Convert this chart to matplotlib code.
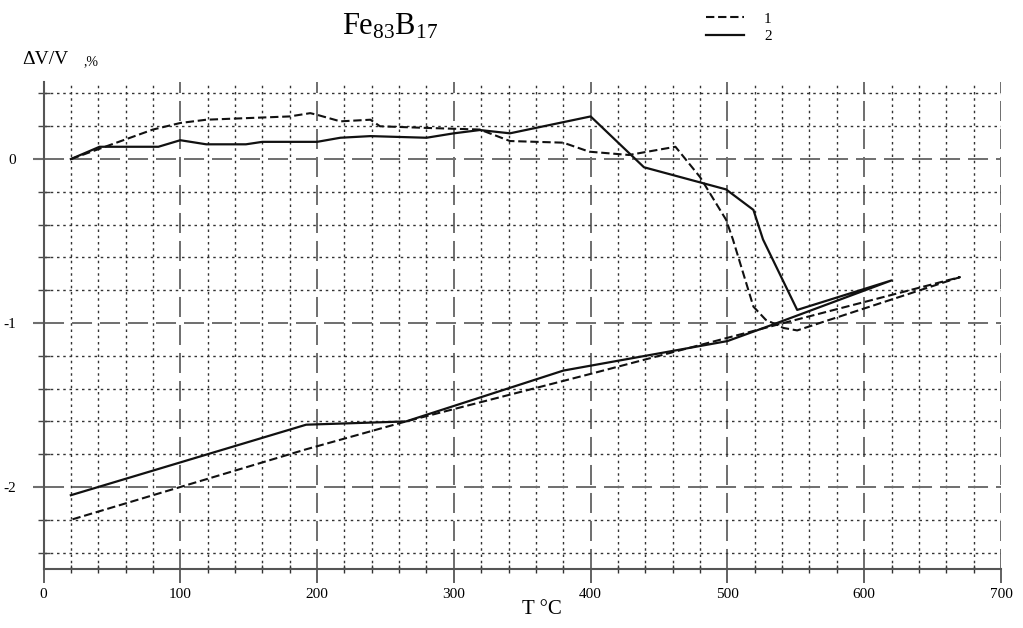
import matplotlib
matplotlib.use("Agg")
import matplotlib.pyplot as plt
from matplotlib.ticker import MultipleLocator

plt.rcParams['font.family'] = ['Liberation Serif', 'DejaVu Serif']
plt.rcParams['mathtext.fontset'] = 'custom'
plt.rcParams['mathtext.rm'] = 'Liberation Serif'

# curve 1 (dashed): heating, then cooling back to room temperature
t1 = [20, 80, 100, 119, 180, 195, 200, 217, 239, 246, 280, 319, 341, 380, 399,
      428, 462, 480, 499, 504, 519, 528, 541, 551, 670,
      541, 400, 265, 192, 20]
dv1 = [0.0, 0.18, 0.22, 0.24, 0.26, 0.28, 0.27, 0.23, 0.24, 0.20, 0.19, 0.18, 0.11, 0.10, 0.045,
       0.025, 0.075, -0.11, -0.37, -0.49, -0.90, -0.98, -1.03, -1.045, -0.72,
       -1.0, -1.31, -1.6, -1.77, -2.2]

# curve 2 (solid)
t2 = [20, 41, 84, 100, 119, 148, 160, 200, 217, 239, 280, 300, 319, 341, 400,
      439, 499, 519, 526, 551, 620,
      533, 500, 400, 380, 265, 192, 20]
dv2 = [0.0, 0.075, 0.075, 0.115, 0.09, 0.09, 0.105, 0.105, 0.13, 0.14, 0.13, 0.157, 0.177, 0.157, 0.26,
       -0.05, -0.185, -0.31, -0.49, -0.92, -0.74,
       -1.01, -1.11, -1.26, -1.29, -1.6, -1.62, -2.05]

x_ticks = [0, 100, 200, 300, 400, 500, 600, 700]
y_ticks = [0, -1, -2]

W, H = 1023, 628
fig = plt.figure(figsize=(W / 100, H / 100), dpi=100)
ax = fig.add_axes([43.5 / W, 1 - 569 / H, (1001 - 43.5) / W, (569 - 82) / H])

ax.plot(t1, dv1, color='#111111', lw=1.5, linestyle=(0, (4.0, 1.8)), label='1')
ax.plot(t2, dv2, color='#111111', lw=1.6, label='2')

ax.set_xlim(0, 700)
ax.set_ylim(-2.5, 0.47)
ax.set_xticks(x_ticks)
ax.set_yticks(y_ticks)
ax.xaxis.set_minor_locator(MultipleLocator(20))
ax.yaxis.set_minor_locator(MultipleLocator(0.2))

# grid: long dashes for major, dotted for minor
ax.grid(which='major', color='#6e6e6e', lw=1.4, linestyle=(0, (10.3, 4.1)))
ax.grid(which='minor', color='#333333', lw=1.0, linestyle=(0, (1.8, 2.7)))
ax.set_axisbelow(True)

for s in ['top', 'right']:
    ax.spines[s].set_visible(False)
for s in ['left', 'bottom']:
    ax.spines[s].set_color('#555555')
    ax.spines[s].set_linewidth(1.5)

ax.tick_params(axis='x', which='major', direction='out', length=10, width=1.3,
               color='#555555', pad=4, labelsize=11)
ax.tick_params(axis='x', which='minor', direction='inout', length=6, width=1.0,
               color='#333333')
ax.tick_params(axis='y', which='major', direction='out', length=8, width=1.5,
               color='#6e6e6e', pad=12, labelsize=11)
ax.tick_params(axis='y', which='minor', direction='inout', length=8, width=1.0,
               color='#444444')
ax.set_yticklabels(['0', '-1', '-2'])

# title and axis labels
fig.text(390 / W, 1 - 27 / H, r'$\mathrm{Fe_{83}B_{17}}$', fontsize=22,
         ha='center', va='center')
fig.text(22 / W, 1 - 60 / H, 'ΔV/V', fontsize=14, ha='left', va='center')
fig.text(84 / W, 1 - 62 / H, ',%', fontsize=10, ha='left', va='center')
fig.text(542 / W, 1 - 610 / H, 'T °C', fontsize=15, ha='center', va='center')

ax.legend(loc='upper left', bbox_to_anchor=(706 / W, 1 - 12 / H),
          bbox_transform=fig.transFigure, frameon=False, fontsize=11,
          handlelength=2.5, handletextpad=1.3, labelspacing=0.25,
          borderpad=0, borderaxespad=0)

fig.savefig('out.png', dpi=100)
